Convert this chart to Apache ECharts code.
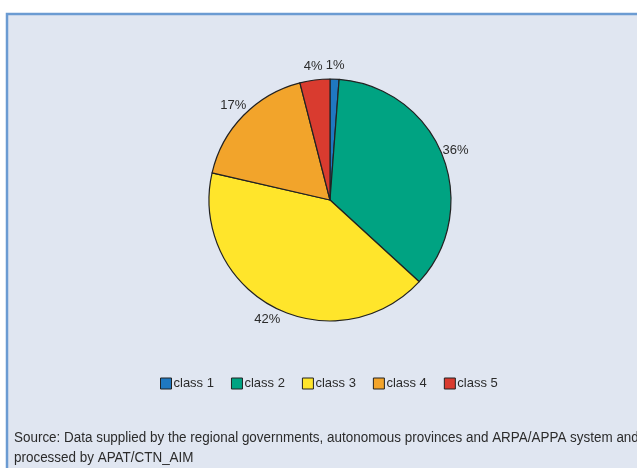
<!DOCTYPE html>
<html><head><meta charset="utf-8">
<script src="https://cdn.jsdelivr.net/npm/echarts@6/dist/echarts.min.js"></script>
<style>html,body{margin:0;padding:0;background:#fff}#c{width:637px;height:468px}</style>
</head><body><div id="c"></div>
<script>
const categories = ['class 1', 'class 2', 'class 3', 'class 4', 'class 5'];
const values = [1.2, 35.6, 41.8, 17.4, 4.0];
const colors = ['#1f78c1', '#00a382', '#ffe52b', '#f2a42b', '#d93b2f'];
const sourceLines = [
  'Source: Data supplied by the regional governments, autonomous provinces and ARPA/APPA system and',
  'processed by APAT/CTN_AIM'
];
const FONT = '"Liberation Sans", Arial, sans-serif';
const chart = echarts.init(document.getElementById('c'), null, {renderer: 'canvas'});
chart.setOption({
  backgroundColor: '#ffffff',
  animation: false,
  graphic: [
    {type: 'rect', z: -10, shape: {x: 7, y: 14, width: 700, height: 520},
     style: {fill: '#e0e6f1', stroke: '#6b9bd2', lineWidth: 2.5}},
    {type: 'text', x: 14, y: 428, scaleX: 0.96, style: {text: sourceLines.join('\n'), font: '14px ' + FONT, fill: '#2b2b2b', lineHeight: 20}}
  ],
  legend: {
    data: categories, left: 155, top: 372, itemWidth: 11, itemHeight: 11, itemGap: 17,
    icon: 'rect',
    itemStyle: {borderColor: '#222', borderWidth: 1},
    textStyle: {fontFamily: FONT, fontSize: 13, color: '#2b2b2b', padding: [0, 0, 0, -3]}
  },
  series: [{
    type: 'pie', center: [330, 200], radius: 121, startAngle: 90, clockwise: true,
    data: categories.map((c, i) => ({name: c, value: values[i], itemStyle: {color: colors[i]}})),
    itemStyle: {borderColor: '#222', borderWidth: 1.2},
    label: {show: false},
    labelLine: {show: false},
    emphasis: {disabled: true}
  }, {
    type: 'pie', center: [330, 200], radius: [124, 140], startAngle: 90, clockwise: true,
    data: categories.map((c, i) => ({name: c, value: values[i]})), silent: true,
    itemStyle: {color: 'rgba(0,0,0,0)', borderWidth: 0},
    label: {show: true, position: 'inside', fontFamily: FONT, fontSize: 13, color: '#2b2b2b',
      formatter: p => Math.round(p.percent) + '%'},
    labelLine: {show: false},
    emphasis: {disabled: true}
  }]
});
</script></body></html>
